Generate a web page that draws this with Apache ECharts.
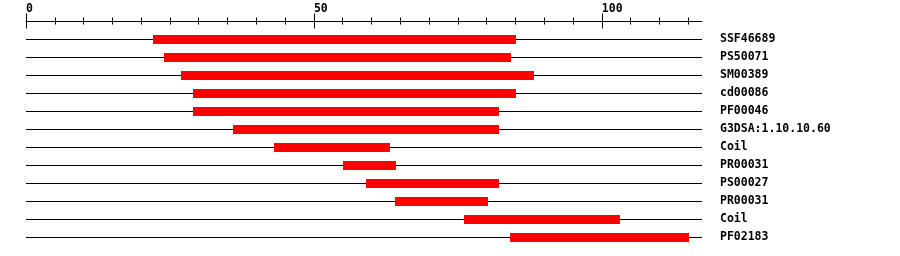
<!DOCTYPE html>
<html>
<head>
<meta charset="utf-8">
<script src="https://cdn.jsdelivr.net/npm/echarts@6/dist/echarts.min.js"></script>
<style>
html,body{margin:0;padding:0;background:#fff;}
#chart{width:900px;height:256px;}
</style>
</head>
<body>
<div id="chart"></div>
<script>
// ---- data ----
const categories = ['SSF46689','PS50071','SM00389','cd00086','PF00046','G3DSA:1.10.10.60','Coil','PR00031','PS00027','PR00031','Coil','PF02183'];
const starts = [22, 24, 27, 29, 29, 36, 43, 55, 59, 64, 76, 84];
const ends   = [85, 84, 88, 85, 82, 82, 63, 64, 82, 80, 103, 115];
const majorTicks = [0, 50, 100];
const minorStep = 5;
const AXIS_MIN = 0;
const AXIS_MAX = 117.4;

const minorTicks = [];
for (let v = AXIS_MIN; v <= AXIS_MAX; v += minorStep) {
  if (majorTicks.indexOf(v) < 0) minorTicks.push(v);
}

const FONT = '"DejaVu Sans Mono", monospace';
const rows = categories.map((c, i) => [starts[i], ends[i], i]);

function baseAxis(extra) {
  return Object.assign({
    type: 'value', position: 'top', offset: 9, min: AXIS_MIN, max: AXIS_MAX,
    splitLine: { show: false },
    axisLine: { show: false },
    axisLabel: { show: false },
    axisTick: { show: false }
  }, extra);
}

const chart = echarts.init(document.getElementById('chart'), null, { renderer: 'canvas' });
chart.setOption({
  animation: false,
  backgroundColor: '#fff',
  grid: { left: 26, width: 676, top: 30.5, height: 216, containLabel: false },
  xAxis: [
    baseAxis({
      axisLine: { show: true, lineStyle: { color: '#000', width: 1 } },
      axisTick: { show: true, customValues: majorTicks, length: 8, lineStyle: { color: '#000', width: 1 } },
      axisLabel: { show: true, customValues: majorTicks, align: 'left', margin: 6,
        color: '#000', fontFamily: FONT, fontWeight: 'bold', fontSize: 11.5 }
    }),
    baseAxis({ axisTick: { show: true, inside: true, customValues: majorTicks, length: 7, lineStyle: { color: '#000', width: 1 } } }),
    baseAxis({ axisTick: { show: true, customValues: minorTicks, length: 4, lineStyle: { color: '#000', width: 1 } } }),
    baseAxis({ axisTick: { show: true, inside: true, customValues: minorTicks, length: 3, lineStyle: { color: '#000', width: 1 } } })
  ],
  yAxis: {
    type: 'category', data: categories, inverse: true, position: 'right',
    axisLine: { show: false }, axisTick: { show: false }, splitLine: { show: false },
    axisLabel: { margin: 18, align: 'left', color: '#000', fontFamily: FONT, fontWeight: 'bold', fontSize: 11.5 }
  },
  series: [{
    type: 'custom',
    xAxisIndex: 0, yAxisIndex: 0,
    data: rows,
    encode: { x: [0, 1], y: 2 },
    renderItem: function (params, api) {
      const idx = api.value(2);
      const s = api.coord([api.value(0), idx]);
      const e = api.coord([api.value(1), idx]);
      const l0 = api.coord([AXIS_MIN, idx]);
      const l1 = api.coord([AXIS_MAX, idx]);
      const y = Math.floor(s[1]) + 0.5;
      const x0 = Math.round(s[0]);
      const x1 = Math.round(e[0]) + 1;
      return { type: 'group', children: [
        { type: 'line', shape: { x1: l0[0], y1: y, x2: l1[0], y2: y }, style: { stroke: '#000', lineWidth: 1 } },
        { type: 'rect', shape: { x: x0, y: y - 4.5, width: x1 - x0, height: 9 }, style: { fill: '#ff0000' } }
      ]};
    }
  }]
});
</script>
</body>
</html>
